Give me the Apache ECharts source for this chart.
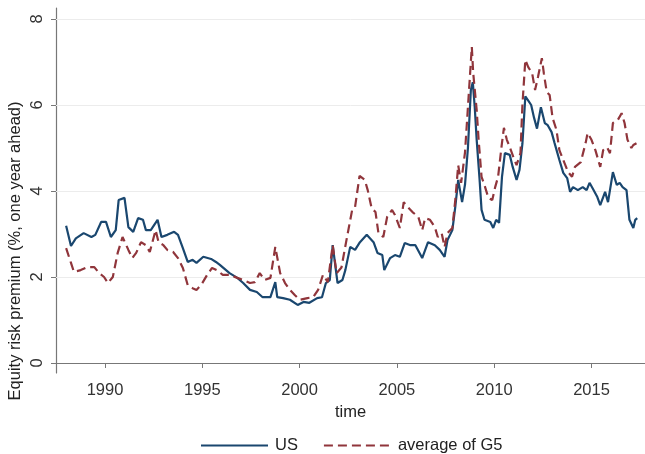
<!DOCTYPE html>
<html>
<head>
<meta charset="utf-8">
<script src="https://cdn.jsdelivr.net/npm/echarts@6/dist/echarts.min.js"></script>
<style>
html,body{margin:0;padding:0;background:#fff;}
#chart{width:645px;height:454px;}
</style>
</head>
<body>
<div id="chart"></div>
<script>
const usTime = [1988.0,1988.25,1988.5,1988.9,1989.3,1989.5,1989.8,1990.05,1990.3,1990.55,
1990.7,1991.0,1991.2,1991.45,1991.7,1991.95,1992.1,1992.35,1992.7,1992.9,
1993.2,1993.55,1993.75,1994.0,1994.25,1994.5,1994.7,1995.05,1995.45,1995.7,
1995.9,1996.4,1996.8,1997.1,1997.45,1997.8,1998.1,1998.5,1998.75,1998.85,
1999.15,1999.5,1999.9,2000.2,2000.5,2000.9,2001.15,2001.35,2001.55,2001.7,
2001.95,2002.2,2002.35,2002.6,2002.85,2003.1,2003.45,2003.8,2004.0,2004.25,
2004.35,2004.65,2004.9,2005.15,2005.4,2005.7,2005.95,2006.3,2006.6,2006.95,
2007.2,2007.45,2007.6,2007.85,2008.0,2008.15,2008.35,2008.5,2008.65,2008.8,
2008.9,2009.0,2009.1,2009.25,2009.35,2009.5,2009.8,2009.95,2010.1,2010.25,
2010.4,2010.55,2010.8,2010.95,2011.15,2011.3,2011.45,2011.6,2011.75,2011.9,
2012.05,2012.2,2012.4,2012.6,2012.75,2012.95,2013.1,2013.35,2013.55,2013.75,
2013.9,2014.05,2014.3,2014.55,2014.75,2014.9,2015.05,2015.3,2015.45,2015.7,
2015.85,2016.1,2016.3,2016.45,2016.6,2016.8,2016.95,2017.15,2017.25,2017.35];
const usValue = [3.19,2.72,2.90,3.02,2.93,2.98,3.28,3.28,2.93,3.09,
3.79,3.84,3.16,3.05,3.37,3.33,3.09,3.09,3.33,2.93,
2.98,3.05,2.98,2.67,2.35,2.40,2.33,2.47,2.42,2.35,
2.28,2.09,1.98,1.86,1.70,1.65,1.53,1.53,1.88,1.53,
1.51,1.47,1.35,1.42,1.40,1.51,1.53,1.86,1.93,2.74,
1.86,1.93,2.16,2.70,2.63,2.81,2.98,2.81,2.56,2.51,
2.16,2.44,2.51,2.47,2.79,2.74,2.74,2.44,2.81,2.74,
2.63,2.47,2.86,3.09,3.63,4.26,3.74,4.15,5.00,6.35,
6.53,5.95,5.19,4.26,3.56,3.33,3.28,3.14,3.33,3.26,
4.33,4.88,4.84,4.56,4.26,4.49,5.10,6.20,6.10,6.00,
5.70,5.45,5.95,5.58,5.53,5.37,5.12,4.72,4.42,4.30,
3.98,4.09,4.02,4.09,4.02,4.19,4.07,3.86,3.67,3.98,
3.74,4.44,4.14,4.19,4.09,4.02,3.33,3.14,3.33,3.37];

const g5Time = [1988.0,1988.25,1988.4,1988.75,1989.1,1989.45,1989.7,1989.95,1990.15,1990.4,
1990.65,1990.9,1991.2,1991.4,1991.6,1991.85,1992.1,1992.3,1992.6,1992.75,
1993.0,1993.2,1993.5,1993.75,1994.0,1994.25,1994.5,1994.7,1994.95,1995.25,
1995.5,1995.75,1996.05,1996.4,1996.8,1997.1,1997.45,1997.7,1997.95,1998.2,
1998.5,1998.75,1999.0,1999.25,1999.5,1999.75,2000.0,2000.4,2000.7,2000.95,
2001.2,2001.45,2001.7,2001.9,2002.15,2002.4,2002.7,2002.85,2003.08,2003.35,
2003.5,2003.7,2003.9,2004.05,2004.3,2004.5,2004.75,2004.9,2005.15,2005.35,
2005.55,2005.8,2006.1,2006.3,2006.45,2006.7,2006.95,2007.1,2007.3,2007.45,
2007.6,2007.85,2008.0,2008.15,2008.3,2008.5,2008.65,2008.85,2008.92,2009.1,
2009.2,2009.35,2009.5,2009.7,2009.9,2010.05,2010.2,2010.4,2010.5,2010.65,
2010.8,2011.0,2011.15,2011.35,2011.45,2011.6,2011.75,2011.95,2012.1,2012.25,
2012.45,2012.55,2012.7,2012.85,2013.0,2013.2,2013.35,2013.55,2013.8,2014.0,
2014.15,2014.45,2014.7,2014.8,2015.0,2015.2,2015.45,2015.6,2015.8,2015.95,
2016.1,2016.35,2016.55,2016.7,2016.85,2017.05,2017.15,2017.35];
const g5Value = [2.67,2.33,2.12,2.16,2.23,2.23,2.09,2.00,1.86,2.00,
2.56,2.93,2.63,2.44,2.56,2.81,2.74,2.58,3.09,2.81,
2.74,2.63,2.58,2.44,2.21,1.81,1.74,1.70,1.82,2.05,
2.21,2.16,2.05,2.05,1.98,1.93,1.86,1.88,2.09,1.93,
1.98,2.70,2.09,1.86,1.70,1.58,1.47,1.51,1.53,1.70,
2.05,1.88,2.74,2.09,2.22,2.84,3.56,3.63,4.35,4.26,
4.02,3.60,3.51,3.02,2.93,3.40,3.56,3.44,3.14,3.74,
3.63,3.51,3.40,3.09,3.37,3.33,3.16,2.93,3.02,2.70,
3.02,3.14,3.79,4.60,4.19,4.90,5.95,7.35,6.75,5.88,
5.19,4.33,4.14,3.84,3.79,4.09,4.33,5.12,5.47,5.19,
5.02,4.77,4.60,4.88,6.00,7.05,6.88,6.74,6.35,6.65,
7.09,6.74,6.30,6.23,5.70,5.42,4.95,4.72,4.44,4.33,
4.56,4.67,5.12,5.35,5.19,4.95,4.56,4.95,5.02,4.88,
5.58,5.65,5.81,5.58,5.19,5.00,5.07,5.12];

const xTicks = [1990, 1995, 2000, 2005, 2010, 2015];
const yTicks = [0, 2, 4, 6, 8];
const gridValues = [2, 4, 6, 8];
const seriesNames = ['US', 'average of G5'];
const yTitle = 'Equity risk premium (%, one year ahead)';
const xTitle = 'time';

const FONT = '"Liberation Sans", Arial, Helvetica, sans-serif';
const pair = (t, v) => t.map((x, i) => [x, v[i]]);

const chart = echarts.init(document.getElementById('chart'), null, {renderer: 'canvas'});
chart.setOption({
  animation: false,
  backgroundColor: '#ffffff',
  grid: {left: 56, right: 0, top: 8, bottom: 81, containLabel: false},
  xAxis: {
    type: 'value', min: 1987.48, max: 2017.75,
    name: xTitle, nameLocation: 'middle', nameGap: 21,
    nameTextStyle: {fontFamily: FONT, fontSize: 16.5, color: '#222'},
    axisLine: {show: true, lineStyle: {color: '#777', width: 1.2}},
    axisTick: {show: true, length: 5, customValues: xTicks, lineStyle: {color: '#777'}},
    axisLabel: {customValues: xTicks, margin: 9, fontFamily: FONT, fontSize: 16.5, color: '#333',
      formatter: v => String(v)},
    splitLine: {show: false}
  },
  yAxis: {
    type: 'value', min: -0.2326, max: 8.2558,
    axisLine: {show: true, lineStyle: {color: '#777', width: 1.2}},
    axisTick: {show: true, length: 5, customValues: yTicks, lineStyle: {color: '#777'}},
    axisLabel: {customValues: yTicks, rotate: 90, margin: 10, fontFamily: FONT, fontSize: 16.5, color: '#333',
      formatter: v => String(v)},
    splitLine: {show: false}
  },
  legend: {
    left: 195, top: 432, itemWidth: 67, itemHeight: 14, itemGap: 25,
    itemStyle: {opacity: 0},
    textStyle: {fontFamily: FONT, fontSize: 16.5, color: '#222', padding: [0, 0, 0, 2]},
    data: seriesNames
  },
  graphic: [{
    type: 'text', x: 15.5, y: 251, rotation: Math.PI / 2,
    style: {text: yTitle, font: '16.5px ' + FONT, fill: '#222', textAlign: 'center', textVerticalAlign: 'middle'}
  }],
  series: [
    {
      name: seriesNames[0], type: 'line', data: pair(usTime, usValue),
      symbol: 'none', showSymbol: false, z: 3,
      lineStyle: {color: '#1a476f', width: 2.2},
      itemStyle: {color: '#1a476f'},
      markLine: {
        silent: true, symbol: 'none', z: 1, label: {show: false},
        lineStyle: {color: '#ececec', width: 1, type: 'solid'},
        data: gridValues.map(v => ({yAxis: v}))
      }
    },
    {
      name: seriesNames[1], type: 'line', data: pair(g5Time, g5Value),
      symbol: 'none', showSymbol: false, z: 4,
      lineStyle: {color: '#90353b', width: 2.2, type: [9, 5]},
      itemStyle: {color: '#90353b'}
    }
  ]
});
</script>
</body>
</html>
